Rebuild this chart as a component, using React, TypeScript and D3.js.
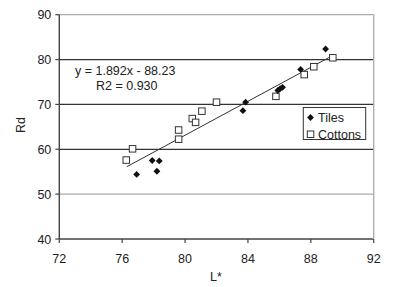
import React from "react";
import * as d3 from "d3";

const tilesX = [76.92, 77.91, 78.36, 78.21, 83.68, 83.85, 85.9, 86.05, 86.2, 87.35, 88.94];
const tilesY = [54.4, 57.5, 57.4, 55.1, 68.6, 70.5, 73.1, 73.5, 73.8, 77.8, 82.35];
const cottonsX = [76.26, 76.66, 79.59, 79.59, 80.46, 80.67, 81.07, 82.0, 85.78, 87.58, 88.19, 89.4];
const cottonsY = [57.6, 60.1, 62.25, 64.3, 66.85, 66.0, 68.5, 70.5, 71.8, 76.65, 78.4, 80.4];
const xTicks = [72, 76, 80, 84, 88, 92];
const yTicks = [40, 50, 60, 70, 80, 90];
const darkGrid = [60, 70, 80];
const slope = 1.892;
const intercept = -88.23;
const trendRange = [76.3, 89.4];
const eqLine1 = "y = 1.892x - 88.23";
const eqLine2 = "R2 = 0.930";
const legendLabels = ["Tiles", "Cottons"];

const W = 405;
const H = 287;
const font = "'Liberation Sans', Arial, sans-serif";
const fs = 12.5;

export default function App() {
  const x = d3.scaleLinear().domain([72, 92]).range([59.3, 373.7]);
  const y = d3.scaleLinear().domain([40, 90]).range([239, 14.7]);
  const line = d3
    .line<number>()
    .x((d) => x(d))
    .y((d) => y(slope * d + intercept));
  const r = 3.4;
  const diamond = `M0,${-r}L${r},0L0,${r}L${-r},0Z`;
  const sq = 6.5;

  return (
    <svg
      width={W}
      height={H}
      style={{ position: "absolute", left: 0, top: 0, background: "#fff" }}
      fontFamily={font}
      fontSize={fs}
    >
      <rect x={0} y={0} width={W} height={H} fill="#fff" />
      {yTicks.map((t) => (
        <line
          key={"g" + t}
          x1={x(72)}
          x2={x(92)}
          y1={y(t)}
          y2={y(t)}
          stroke={darkGrid.includes(t) ? "#333" : t === 40 ? "#444" : "#aaa"}
          strokeWidth={darkGrid.includes(t) || t === 40 ? 1.3 : 1.2}
        />
      ))}
      <line x1={x(92)} x2={x(92)} y1={y(90)} y2={y(40)} stroke="#aaa" strokeWidth={1.3} />
      <line x1={x(72)} x2={x(72)} y1={y(90)} y2={y(40)} stroke="#444" strokeWidth={1.4} />
      {yTicks.map((t) => (
        <g key={"yt" + t}>
          <line x1={x(72) - 4} x2={x(72)} y1={y(t)} y2={y(t)} stroke="#444" strokeWidth={1.2} />
          <text x={x(72) - 8} y={y(t)} dy="0.36em" textAnchor="end" fill="#222">
            {t}
          </text>
        </g>
      ))}
      {xTicks.map((t) => (
        <g key={"xt" + t}>
          <line x1={x(t)} x2={x(t)} y1={y(40)} y2={y(40) + 4} stroke="#444" strokeWidth={1.2} />
          <text x={x(t)} y={263} textAnchor="middle" fill="#222">
            {t}
          </text>
        </g>
      ))}
      <path d={line(trendRange) || ""} stroke="#333" strokeWidth={1} fill="none" />
      {cottonsX.map((cx, i) => (
        <rect
          key={"c" + i}
          x={x(cx) - sq / 2}
          y={y(cottonsY[i]) - sq / 2}
          width={sq}
          height={sq}
          fill="#fff"
          stroke="#333"
          strokeWidth={1}
        />
      ))}
      {tilesX.map((tx, i) => (
        <path key={"t" + i} d={diamond} transform={`translate(${x(tx)},${y(tilesY[i])})`} fill="#111" />
      ))}
      <text x={75} y={75} fill="#222">
        {eqLine1}
      </text>
      <text x={96} y={90} fill="#222">
        {eqLine2}
      </text>
      <rect x={303.3} y={107.5} width={62.4} height={32} fill="#fff" stroke="#333" strokeWidth={1} />
      <path d={diamond} transform="translate(310.5,117.5)" fill="#111" />
      <text x={318} y={117.5} dy="0.36em" fill="#222">
        {legendLabels[0]}
      </text>
      <rect x={307.3} y={131} width={6.5} height={6.5} fill="#fff" stroke="#333" strokeWidth={1} />
      <text x={318} y={134.3} dy="0.36em" fill="#222">
        {legendLabels[1]}
      </text>
      <text x={216} y={281} textAnchor="middle" fill="#222">
        L*
      </text>
      <text transform="translate(25,125) rotate(-90)" textAnchor="middle" fill="#222">
        Rd
      </text>
    </svg>
  );
}
